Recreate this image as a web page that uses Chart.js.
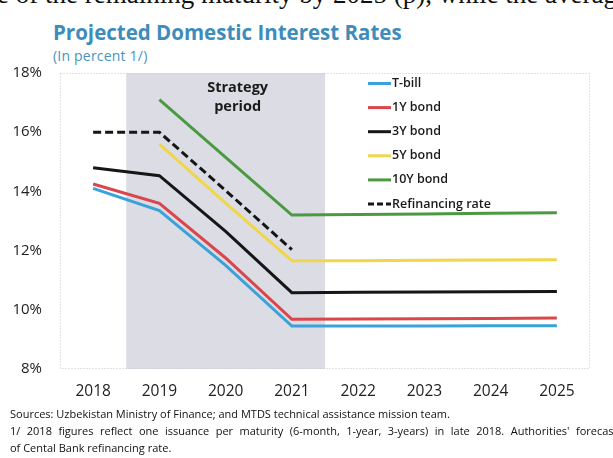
<!DOCTYPE html>
<html>
<head>
<meta charset="utf-8">
<script src="https://cdn.jsdelivr.net/npm/chart.js@4"></script>
<style>
  html, body { margin: 0; padding: 0; background: #fff; overflow: hidden; }
  body { width: 613px; height: 458px; position: relative; font-family: "Open Sans", sans-serif; }
  #lead { position: absolute; left: -3px; top: -19px; font: 27px/27px "Liberation Serif", serif; color: #111; white-space: nowrap; }
  #title { position: absolute; left: 53px; top: 18px; font-size: 20.5px; font-weight: 700; color: #3d8cbc; white-space: nowrap; }
  #subtitle { position: absolute; left: 53px; top: 46px; font-size: 14px; letter-spacing: 0.2px; color: #4a93c0; white-space: nowrap; }
  #chart-box { position: absolute; left: 0; top: 0; width: 613px; height: 458px; }
  .note { position: absolute; left: 10px; font-size: 11px; line-height: 15px; color: #111; white-space: nowrap; }
</style>
</head>
<body>
<div id="lead">e of the remaining maturity by 2025 (p), while the average</div>
<div id="title">Projected Domestic Interest Rates</div>
<div id="subtitle">(In percent 1/)</div>
<div id="chart-box"><canvas id="rates-chart"></canvas></div>
<div class="note" style="top:406px">Sources: Uzbekistan Ministry of Finance; and MTDS technical assistance mission team.</div>
<div class="note" style="top:423px; word-spacing: 3.6px">1/ 2018 figures reflect one issuance per maturity (6-month, 1-year, 3-years) in late 2018. Authorities' forecast</div>
<div class="note" style="top:440px">of Cental Bank refinancing rate.</div>

<script>
const years = ['2018', '2019', '2020', '2021', '2022', '2023', '2024', '2025'];

const tBill = [14.1, 13.35, 11.5, 9.45, 9.45, 9.45, 9.46, 9.46];
const bond1Y = [14.25, 13.6, 11.75, 9.68, 9.69, 9.7, 9.71, 9.72];
const bond3Y = [14.8, 14.53, 12.65, 10.58, 10.59, 10.6, 10.61, 10.62];
const bond5Y = [null, 15.6, 13.6, 11.66, 11.66, 11.67, 11.68, 11.69];
const bond10Y = [null, 17.1, 15.15, 13.2, 13.22, 13.24, 13.26, 13.28];
const refinancingRate = [16.0, 16.0, 14.03, 12.03, null, null, null, null];

// strategy period runs between these category positions
const strategyStart = 0.5;
const strategyEnd = 3.5;

const makeLine = (label, data, color, dash) => ({
    label: label,
    data: data,
    borderColor: color,
    backgroundColor: color,
    borderWidth: 3,
    borderDash: dash || [],
    pointRadius: 0,
    tension: 0
});

// shaded band, dotted frame and the "Strategy period" note
const strategyBand = {
    id: 'strategyBand',
    beforeDatasetsDraw(chart) {
        const { ctx, chartArea, scales } = chart;
        const x0 = scales.x.getPixelForValue(strategyStart);
        const x1 = scales.x.getPixelForValue(strategyEnd);
        ctx.save();
        ctx.fillStyle = '#dcdde4';
        ctx.fillRect(x0, chartArea.top, x1 - x0, chartArea.bottom - chartArea.top);

        ctx.strokeStyle = '#c4c6cc';
        ctx.lineWidth = 1;
        ctx.setLineDash([1, 2]);
        ctx.strokeRect(chartArea.left + 0.5, chartArea.top + 0.5, chartArea.width - 1, chartArea.height - 1);
        ctx.setLineDash([]);

        ctx.fillStyle = '#1a1a1a';
        ctx.font = '700 14.5px "Open Sans", sans-serif';
        ctx.textAlign = 'center';
        ctx.textBaseline = 'middle';
        const cx = (scales.x.getPixelForValue(1) + scales.x.getPixelForValue(3)) / 2 + 12;
        ctx.fillText('Strategy', cx, chartArea.top + 15);
        ctx.fillText('period', cx, chartArea.top + 34);
        ctx.restore();
    }
};

// legend drawn inside the plot
const insideLegend = {
    id: 'insideLegend',
    afterDatasetsDraw(chart) {
        const { ctx } = chart;
        const left = 368;
        const top = 83.5;
        const rowGap = 24.1;
        ctx.save();
        ctx.font = '600 12.5px "Open Sans", sans-serif';
        ctx.textBaseline = 'middle';
        ctx.textAlign = 'left';
        chart.data.datasets.forEach((ds, i) => {
            const y = top + i * rowGap;
            ctx.strokeStyle = ds.borderColor;
            ctx.lineWidth = 3;
            ctx.setLineDash(ds.borderDash.length ? [6, 3] : []);
            ctx.beginPath();
            ctx.moveTo(left, y);
            ctx.lineTo(left + 23, y);
            ctx.stroke();
            ctx.setLineDash([]);
            ctx.fillStyle = '#1a1a1a';
            ctx.fillText(ds.label, left + 24, y);
        });
        ctx.restore();
    }
};

const ctx = document.getElementById('rates-chart');

const chart = new Chart(ctx, {
    type: 'line',
    data: {
        labels: years,
        datasets: [
            makeLine('T-bill', tBill, '#3aa2d9'),
            makeLine('1Y bond', bond1Y, '#d9464c'),
            makeLine('3Y bond', bond3Y, '#161616'),
            makeLine('5Y bond', bond5Y, '#efd64a'),
            makeLine('10Y bond', bond10Y, '#4b9a42'),
            makeLine('Refinancing rate', refinancingRate, '#161616', [8, 4])
        ]
    },
    options: {
        responsive: true,
        maintainAspectRatio: false,
        animation: false,
        layout: {
            padding: { left: 0, top: 73, right: 23, bottom: 60 }
        },
        scales: {
            x: {
                offset: true,
                grid: { display: false, drawTicks: false },
                border: { display: false },
                ticks: {
                    color: '#222',
                    padding: 13,
                    font: { family: '"Open Sans", sans-serif', size: 15.5 }
                },
                afterFit(scale) { scale.height = 29; }
            },
            y: {
                min: 8,
                max: 18,
                grid: { display: false, drawTicks: false },
                border: { display: false },
                ticks: {
                    stepSize: 2,
                    color: '#222',
                    padding: 18,
                    font: { family: '"Open Sans", sans-serif', size: 15 },
                    callback: (v) => v + '%'
                },
                afterFit(scale) { scale.width = 60; }
            }
        },
        plugins: {
            legend: { display: false },
            tooltip: { enabled: false }
        }
    },
    plugins: [strategyBand, insideLegend]
});
</script>
</body>
</html>
